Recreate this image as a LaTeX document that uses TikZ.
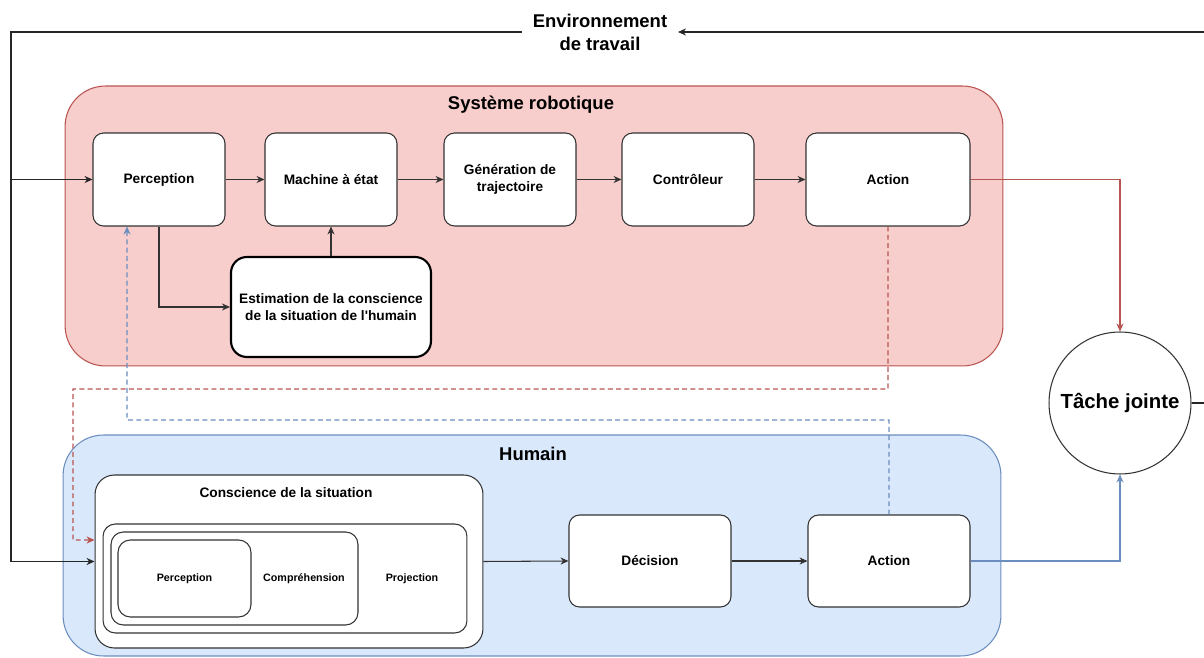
\documentclass[tikz,border=0pt]{standalone}
\usepackage{fontspec}
\setmainfont{Liberation Sans}
\usetikzlibrary{arrows.meta}
\definecolor{rfill}{HTML}{F8CECC}
\definecolor{rline}{HTML}{B85450}
\definecolor{bfill}{HTML}{DAE8FC}
\definecolor{bline}{HTML}{6C8EBF}
\definecolor{boxline}{HTML}{333333}
\begin{document}
\begin{tikzpicture}[x=0.02cm,y=-0.02cm,
  >={Stealth[length=4.5pt,width=4pt,inset=1.4pt]},
  lbl/.style={font=\bfseries\fontsize{7.8}{9.7}\selectfont, align=center, inner sep=0pt},
  title/.style={font=\bfseries\fontsize{10.5}{13}\selectfont, align=center, inner sep=0pt},
  small/.style={font=\bfseries\fontsize{6.1}{7.5}\selectfont, inner sep=0pt},
  box/.style={draw=boxline, fill=white, rounded corners=6pt, line width=0.6pt,
    minimum height=1.86cm, lbl},
  container/.style={rounded corners=23pt, line width=0.6pt, inner sep=0pt},
  thin/.style={line width=0.6pt, draw=boxline},
  envline/.style={line width=1pt, draw=black!85},
  dsh/.style={dash pattern=on 2.8pt off 1.9pt, line width=0.7pt}
]
\useasboundingbox (0,0) rectangle (1204,658);

% containers
\node[container, draw=rline, fill=rfill, minimum width=18.76cm, minimum height=5.6cm] (robot) at (534,226) {};
\node[container, draw=bline, fill=bfill, minimum width=18.76cm, minimum height=4.42cm] (human) at (532,545.5) {};
\node[title] (robotT) at (531,105) {Système robotique};
\node[title] (humanT) at (533,454) {Humain};

% environment label
\node[title, inner xsep=6pt] (env) at (600,32) {Environnement\\de travail};

% robot row
\node[box, minimum width=2.64cm] (percR) at (159,179.5) {Perception};
\node[box, minimum width=2.64cm] (mach) at (331,179.5) {Machine à état};
\node[box, minimum width=2.64cm] (gen) at (510,179.5) {Génération de\\trajectoire};
\node[box, minimum width=2.64cm] (ctrl) at (688,179.5) {Contrôleur};
\node[box, minimum width=3.28cm] (actR) at (888,179.5) {Action};
\node[box, minimum width=4cm, minimum height=2cm, line width=1.2pt, draw=black, rounded corners=9pt] (est) at (331,307) {Estimation de la conscience\\de la situation de l\textquotesingle humain};

% human
\node[draw=boxline, fill=white, line width=0.6pt, rounded corners=11pt, minimum width=7.76cm, minimum height=3.46cm, inner sep=0pt] (consc) at (289,561.5) {};
\node[lbl] (conscT) at (286,493) {Conscience de la situation};
\node[draw=boxline, fill=white, line width=0.6pt, rounded corners=7pt, minimum width=7.28cm, minimum height=2.18cm, inner sep=0pt] (proj) at (285,578.5) {};
\node[draw=boxline, fill=white, line width=0.6pt, rounded corners=7pt, minimum width=4.94cm, minimum height=1.86cm, inner sep=0pt] (compr) at (234.5,578.5) {};
\node[draw=boxline, fill=white, line width=0.6pt, rounded corners=7pt, minimum width=2.66cm, minimum height=1.54cm, small] (percH) at (184.5,578.5) {Perception};
\node[small] (comprT) at (304,579) {Compréhension};
\node[small] (projT) at (412,579) {Projection};
\node[box, minimum width=3.24cm, minimum height=1.84cm] (dec) at (650,561) {Décision};
\node[box, minimum width=3.24cm, minimum height=1.84cm] (actH) at (889,561) {Action};

% joint task
\node[circle, draw=boxline, fill=white, line width=0.6pt, minimum size=2.84cm, inner sep=0pt,
  font=\bfseries\fontsize{11.6}{14}\selectfont] (tache) at (1120,403) {Tâche jointe};

% robot internal arrows
\draw[thin,->] (percR) -- (mach);
\draw[thin,->] (mach) -- (gen);
\draw[thin,->] (gen) -- (ctrl);
\draw[thin,->] (ctrl) -- (actR);
\draw[thin,->] (percR.south) |- (est.west);
\draw[thin,->] (est.north) -- (mach.south);

% human internal arrows
\draw[thin,->] (consc.east) -- (dec.west);
\draw[thin,->] (dec.east) -- (actH.west);

% to joint task
\draw[line width=0.8pt, draw=rline, ->] (actR.east) -| (tache.north);
\draw[line width=0.8pt, draw=bline, ->] (actH.east) -| (tache.south);

% dashed feedback
\draw[dsh, draw=rline, ->] (actR.south) -- (888,389) -- (73,389) -- (73,540) -- ([yshift=0.43cm]consc.west);
\draw[dsh, draw=bline, ->] (actH.north) -- (889,420) -- (127,420) -- ([xshift=-0.64cm]percR.south);

% environment loop
\draw[envline, ->] (tache.east) -- (1215,403) -- (1215,32) -- (env.east);
\draw[envline, ->] (env.west) -- (11,32) |- (percR.west);
\draw[envline, ->] (env.west) -- (11,32) |- (consc.west);
\end{tikzpicture}
\end{document}
